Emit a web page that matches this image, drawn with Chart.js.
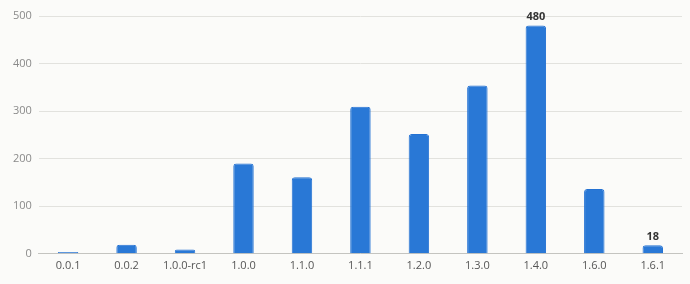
<!DOCTYPE html>
<html>
<head>
<meta charset="utf-8">
<script src="https://cdn.jsdelivr.net/npm/chart.js@4"></script>
<style>
  html, body { margin: 0; padding: 0; background: #fbfbf9; }
  #wrap { width: 690px; height: 284px; }
</style>
</head>
<body>
<div id="wrap"><canvas id="chart-bar"></canvas></div>
<script>
const versions = ['0.0.1', '0.0.2', '1.0.0-rc1', '1.0.0', '1.1.0', '1.1.1', '1.2.0', '1.3.0', '1.4.0', '1.6.0', '1.6.1']
const counts = [4, 19, 9, 190, 161, 309, 252, 354, 480, 136, 18]
const yTicks = [0, 100, 200, 300, 400, 500]

// value labels only on the biggest bar and the last one
const labelled = [counts.indexOf(Math.max(...counts)), counts.length - 1]

const topLabels = {
    id: 'topLabels',
    afterDatasetsDraw(chart) {
        const ctx = chart.ctx
        const meta = chart.getDatasetMeta(0)
        ctx.save()
        ctx.font = 'bold 11px "Open Sans"'
        ctx.fillStyle = '#333'
        ctx.textAlign = 'center'
        ctx.textBaseline = 'bottom'
        labelled.forEach(i => {
            const bar = meta.data[i]
            ctx.fillText(counts[i], bar.x, bar.y - 3)
        })
        ctx.restore()
    }
}

const ctxBar = document.getElementById('chart-bar')

const datasetBar = {
    labels: versions,
    datasets: [{
        data: counts,
        backgroundColor: '#2978d6',
        borderColor: '#2472d3',
        borderWidth: 1,
        borderRadius: 3,
        borderSkipped: 'bottom',
        barPercentage: 0.35,
        categoryPercentage: 1
    }]
}

const configBar = {
    type: 'bar',
    data: datasetBar,
    plugins: [topLabels],
    options: {
        responsive: true,
        maintainAspectRatio: false,
        animation: false,
        layout: { padding: { top: 16, right: 8, left: 6, bottom: 7 } },
        plugins: {
            legend: { display: false },
            tooltip: { enabled: false }
        },
        scales: {
            x: {
                grid: { display: false, drawTicks: false },
                border: { color: '#c4c4c0' },
                ticks: {
                    color: '#555',
                    padding: 5,
                    maxRotation: 0,
                    font: { family: 'Open Sans', size: 11 }
                }
            },
            y: {
                min: 0,
                max: 500,
                afterBuildTicks: (axis) => { axis.ticks = yTicks.map(v => ({ value: v })) },
                grid: { color: '#e2e2de', drawTicks: false },
                border: { display: false },
                ticks: {
                    color: '#8a8a8a',
                    padding: 7,
                    font: { family: 'Open Sans', size: 11 }
                }
            }
        }
    }
}

const chartBar = new Chart(ctxBar, configBar)
</script>
</body>
</html>
